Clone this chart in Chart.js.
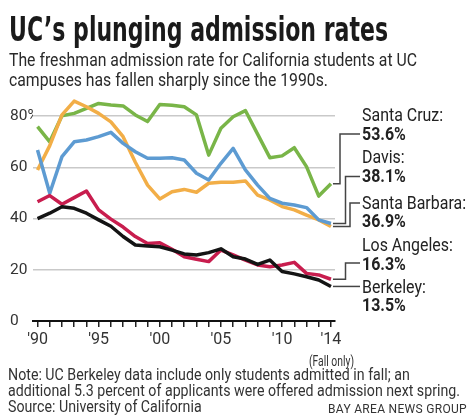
<!DOCTYPE html>
<html>
<head>
<meta charset="utf-8">
<script src="https://cdn.jsdelivr.net/npm/chart.js@4/dist/chart.umd.min.js"></script>
<style>
  body { margin: 0; background: #fff; }
  #page { position: relative; width: 474px; height: 418px; overflow: hidden; font-family: Roboto, sans-serif; color: #222; }
  #c { position: absolute; left: 0; top: 0; }
  .t { position: absolute; white-space: nowrap; line-height: 1; transform-origin: 0 0; }
  #title { left: 9px; top: 9px; font: bold 34px "Liberation Sans Narrow", "DejaVu Sans Condensed", sans-serif; color: #1a1a1a; }
  .sub { left: 9px; font-size: 18px; color: #2a2a2a; }
  .note { left: 8px; font-size: 16.5px; color: #333; }
  #bang { font-size: 12px; color: #333; letter-spacing: 0.3px; }
  #fall { font-size: 14px; color: #333; }
  .lab { left: 362px; font-size: 17.5px; color: #222; }
  .val { font-weight: bold; }
</style>
</head>
<body>
<div id="page">
  <canvas id="c" width="474" height="418"></canvas>
  <div class="t" id="title">UC’s plunging admission rates</div>
  <div class="t sub" id="sub1" style="top:50.8px">The freshman admission rate for California students at UC</div>
  <div class="t sub" id="sub2" style="top:70.8px">campuses has fallen sharply since the 1990s.</div>
  <div class="t" id="fall" style="left:309px;top:354px">(Fall only)</div>
  <div class="t note" id="note1" style="top:367px">Note: UC Berkeley data include only students admitted in fall; an</div>
  <div class="t note" id="note2" style="top:382.5px">additional 5.3 percent of applicants were offered admission next spring.</div>
  <div class="t note" id="source" style="top:398.5px">Source: University of California</div>
  <div class="t" id="bang" style="left:328px;top:402.6px">BAY AREA NEWS GROUP</div>
  <div id="labels"></div>
</div>
<script>
// Data (percent admitted, California freshmen)
const years = [1990, 1991, 1992, 1993, 1994, 1995, 1996, 1997, 1998, 1999, 2000, 2001, 2002,
               2003, 2004, 2005, 2006, 2007, 2008, 2009, 2010, 2011, 2012, 2013, 2014];
const santaCruz    = [75.9, 70.0, 80.2, 81.1, 83.1, 85.0, 84.4, 84.0, 80.5, 77.9, 84.6, 84.3, 83.7,
                      80.5, 64.8, 75.3, 79.8, 82.2, 73.0, 63.8, 64.5, 67.7, 60.3, 48.8, 53.6];
const davis        = [66.8, 49.9, 64.2, 70.0, 70.7, 72.0, 73.7, 69.4, 66.1, 63.6, 63.6, 63.8, 62.9,
                      57.7, 55.1, 61.6, 67.4, 59.0, 53.1, 47.9, 46.0, 45.3, 44.3, 39.5, 38.1];
const santaBarbara = [59.0, 68.5, 80.5, 85.9, 83.7, 81.1, 77.8, 72.0, 62.0, 53.1, 47.7, 50.5, 51.4,
                      50.3, 53.8, 54.2, 54.2, 54.7, 49.2, 47.3, 44.7, 43.4, 41.4, 39.5, 36.9];
const losAngeles   = [46.6, 49.0, 45.6, 48.2, 50.8, 43.4, 39.8, 36.7, 33.0, 30.3, 30.6, 28.0, 25.1,
                      24.1, 23.2, 27.7, 25.8, 23.8, 21.9, 21.2, 21.9, 22.9, 18.6, 18.0, 16.3];
const berkeley     = [40.0, 42.1, 44.6, 44.0, 42.1, 39.5, 37.0, 33.0, 29.7, 29.3, 29.0, 27.7, 26.2,
                      25.8, 26.7, 28.2, 25.1, 24.2, 22.1, 23.8, 19.3, 18.4, 17.3, 16.0, 13.5];

const campusNames = ['Santa Cruz', 'Davis', 'Santa Barbara', 'Los Angeles', 'Berkeley'];
const yTicks = [0, 20, 40, 60, 80];
const xLabelYears = [1990, 1995, 2000, 2005, 2010, 2014];
const xLabels = ["'90", "'95", "'00", "'05", "'10", "'14"];

// styling / layout
const series = [santaCruz, davis, santaBarbara, losAngeles, berkeley];
const colors = ['#79b548', '#5d9bd2', '#f2ae47', '#c81d4e', '#141414'];
const drawOrder = [4, 2, 3, 1, 0];
// label baselines (name line), connector target y and elbow x
const labelBase = [121.7, 164, 209.3, 251.7, 293.3];
const connTarget = [134, 176.5, 203, 263, null];
const connElbow = [340, 345.5, 350, 345.5, null];

// right-hand labels
const labelsDiv = document.getElementById('labels');
campusNames.forEach((name, i) => {
  const last = series[i][series[i].length - 1];
  const n = document.createElement('div');
  n.className = 't lab';
  n.style.top = (labelBase[i] - 14.7) + 'px';
  n.textContent = name + ':';
  const v = document.createElement('div');
  v.className = 't lab val';
  v.style.top = (labelBase[i] + 18.5 - 14.7) + 'px';
  v.textContent = last.toFixed(1) + '%';
  labelsDiv.appendChild(n);
  labelsDiv.appendChild(v);
});

// connector lines from line ends to labels
const connectors = {
  id: 'connectors',
  afterDatasetsDraw(chart) {
    const ctx = chart.ctx;
    const x = chart.scales.x, y = chart.scales.y;
    const x0 = x.getPixelForValue(years[years.length - 1]) + 2;
    ctx.save();
    ctx.strokeStyle = '#444';
    ctx.lineWidth = 1.5;
    series.forEach((s, i) => {
      const yEnd = y.getPixelForValue(s[s.length - 1]);
      ctx.beginPath();
      ctx.moveTo(x0, yEnd);
      if (connElbow[i] !== null) {
        ctx.lineTo(connElbow[i], yEnd);
        ctx.lineTo(connElbow[i], connTarget[i]);
        ctx.lineTo(360, connTarget[i]);
      } else {
        ctx.lineTo(360, yEnd);
      }
      ctx.stroke();
    });
    ctx.restore();
  }
};

Chart.defaults.font.family = 'Roboto, sans-serif';
Chart.defaults.color = '#333';

new Chart(document.getElementById('c'), {
  type: 'line',
  data: {
    datasets: series.map((s, i) => ({
      label: campusNames[i],
      data: s.map((v, k) => ({ x: years[k], y: v })),
      borderColor: colors[i],
      borderWidth: 3.5,
      pointRadius: 0,
      tension: 0,
      fill: false,
      borderJoinStyle: 'round',
      order: drawOrder[i]
    }))
  },
  options: {
    responsive: false,
    animation: false,
    events: [],
    layout: { padding: { left: 10, right: 139, top: 90.6, bottom: 0 } },
    plugins: { legend: { display: false }, tooltip: { enabled: false } },
    scales: {
      x: {
        type: 'linear',
        min: 1989.63,
        max: 2014.33,
        afterBuildTicks: s => { s.ticks = years.map(v => ({ value: v })); },
        afterFit: s => { s.height = 97; },
        ticks: {
          autoSkip: false,
          maxRotation: 0,
          padding: 3,
          font: { size: 16 },
          color: '#333',
          callback: v => {
            const k = xLabelYears.indexOf(v);
            return k >= 0 ? xLabels[k] : '';
          }
        },
        grid: { drawOnChartArea: false, drawTicks: true, tickLength: 6, tickWidth: 1.5, tickColor: '#222', color: '#222', lineWidth: 1.5 },
        border: { display: true, color: '#111', width: 2 }
      },
      y: {
        min: 0,
        max: 90,
        afterBuildTicks: s => { s.ticks = yTicks.map(v => ({ value: v })); },
        afterFit: s => { s.width = 23; },
        ticks: {
          crossAlign: 'far',
          padding: 0,
          font: { size: 15.5 },
          color: '#333',
          showLabelBackdrop: true,
          backdropColor: '#fff',
          backdropPadding: { left: 0, right: 2, top: 0, bottom: 0 },
          callback: v => v === 80 ? '80%' : String(v)
        },
        grid: { color: '#c9c9c9', lineWidth: 1.5, drawTicks: false },
        border: { display: false }
      }
    }
  },
  plugins: [connectors]
});

// squeeze text to the widths used in the graphic
function fit(id, w) {
  const el = document.getElementById(id);
  el.style.transform = '';
  const k = w / el.getBoundingClientRect().width;
  el.style.transform = 'scaleX(' + k + ')';
  return k;
}
function fitAll() {
  fit('title', 379);
  const ks = fit('sub1', 408);
  document.getElementById('sub2').style.transform = 'scaleX(' + ks + ')';
  const kn = fit('note2', 452);
  ['note1', 'source'].forEach(id => { document.getElementById(id).style.transform = 'scaleX(' + kn + ')'; });
  fit('bang', 139);
  fit('fall', 45);
  const labs = document.querySelectorAll('#labels .t');
  const sb = labs[4];
  sb.style.transform = '';
  const kl = 104 / sb.getBoundingClientRect().width;
  labs.forEach(el => { el.style.transform = 'scaleX(' + kl + ')'; });
}
fitAll();
document.fonts.ready.then(fitAll);
</script>
</body>
</html>
